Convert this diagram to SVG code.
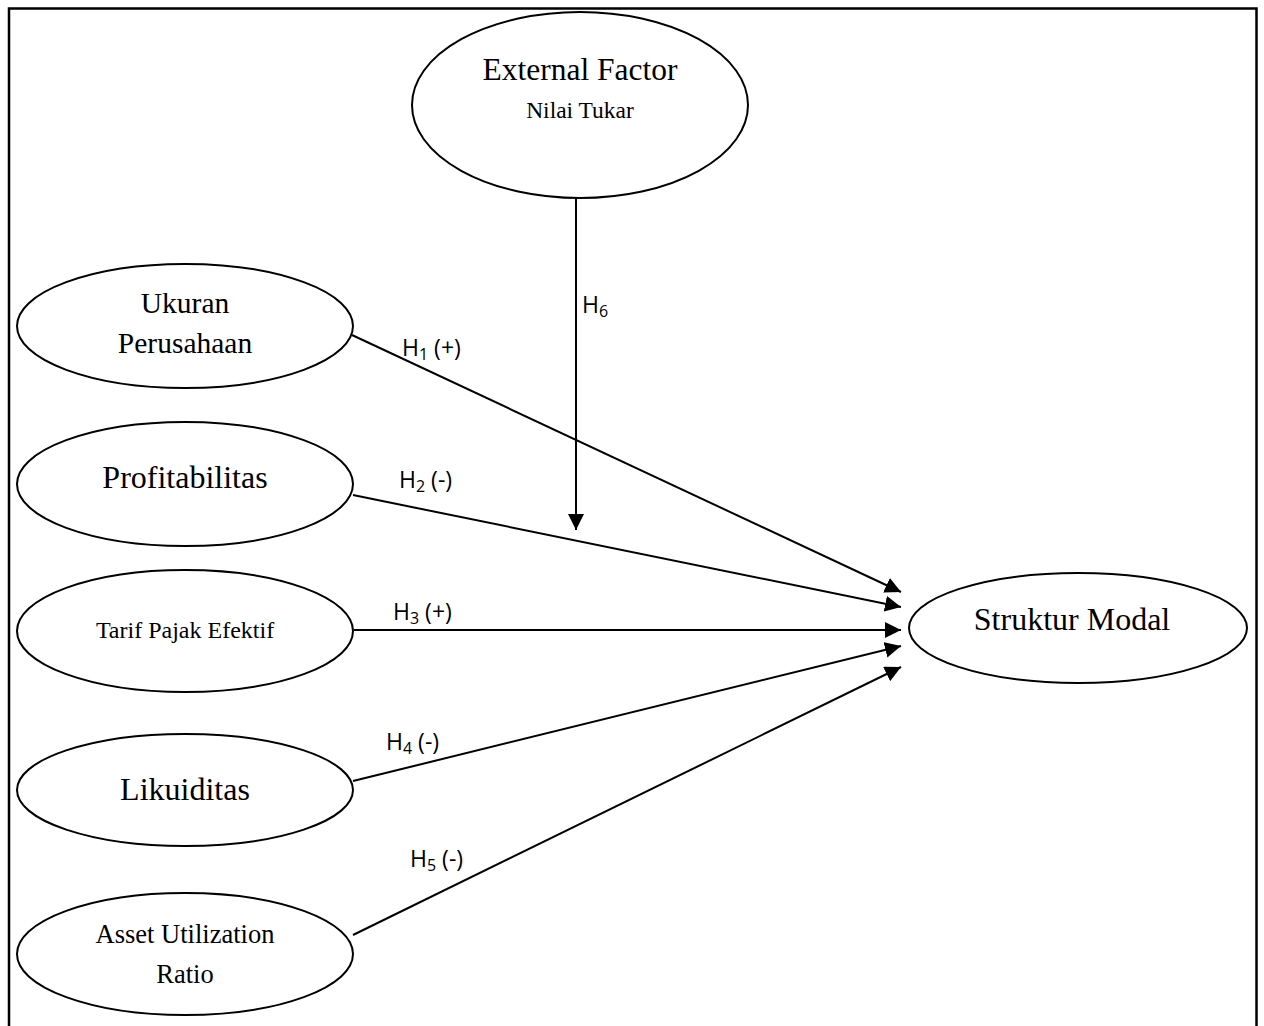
<svg xmlns="http://www.w3.org/2000/svg" width="1264" height="1026" viewBox="0 0 1264 1026">
<defs>
<style>
.node ellipse{fill:#fff;stroke:#000;stroke-width:2}
.t{font-family:"Liberation Serif","Times New Roman",serif;fill:#000;text-anchor:middle}
.lbl{font-family:"Open Sans","Noto Sans","Liberation Sans",sans-serif;font-size:23px;fill:#000}
.sub{font-size:16px}
.edge{stroke:#000;stroke-width:2;fill:none;marker-end:url(#ah)}
</style>
<marker id="ah" viewBox="0 0 16 16" refX="16" refY="8" markerWidth="16" markerHeight="16" markerUnits="userSpaceOnUse" orient="auto">
<path d="M0,0 L16,8 L0,16 Z" fill="#000"/>
</marker>
</defs>
<rect x="0" y="0" width="1264" height="1026" fill="#fff"/>
<path d="M9,1026 V8.5 H1256.5 V1026" fill="none" stroke="#000" stroke-width="2.5"/>
<g id="connectors">
<line class="edge" x1="576" y1="198" x2="576" y2="530"/>
<line class="edge" x1="352" y1="335" x2="901" y2="592"/>
<line class="edge" x1="353" y1="495" x2="901" y2="607"/>
<line class="edge" x1="354" y1="630" x2="901" y2="630"/>
<line class="edge" x1="353" y1="781" x2="901" y2="646"/>
<line class="edge" x1="353" y1="935" x2="901" y2="667"/>
<text class="lbl" x="582" y="313">H<tspan class="sub" dy="4">6</tspan></text>
<text class="lbl" x="402" y="356">H<tspan class="sub" dy="4">1</tspan><tspan dy="-4"> (+)</tspan></text>
<text class="lbl" x="399" y="488">H<tspan class="sub" dy="4">2</tspan><tspan dy="-4"> (-)</tspan></text>
<text class="lbl" x="393" y="620">H<tspan class="sub" dy="4">3</tspan><tspan dy="-4"> (+)</tspan></text>
<text class="lbl" x="386" y="750">H<tspan class="sub" dy="4">4</tspan><tspan dy="-4"> (-)</tspan></text>
<text class="lbl" x="410" y="867">H<tspan class="sub" dy="4">5</tspan><tspan dy="-4"> (-)</tspan></text>
</g>
<g id="external" class="node">
<ellipse cx="580" cy="105" rx="168" ry="93"/>
<text class="t" x="580" y="80" font-size="31.5">External Factor</text>
<text class="t" x="580" y="118" font-size="23.5">Nilai Tukar</text>
</g>
<g id="ukuran" class="node">
<ellipse cx="185" cy="326" rx="168" ry="62"/>
<text class="t" x="185" y="313" font-size="29.5">Ukuran</text>
<text class="t" x="185" y="353" font-size="29.5">Perusahaan</text>
</g>
<g id="profitabilitas" class="node">
<ellipse cx="185" cy="484" rx="168" ry="62"/>
<text class="t" x="185" y="488" font-size="32">Profitabilitas</text>
</g>
<g id="tarif" class="node">
<ellipse cx="185" cy="631" rx="168" ry="61"/>
<text class="t" x="185" y="638" font-size="24">Tarif Pajak Efektif</text>
</g>
<g id="likuiditas" class="node">
<ellipse cx="185" cy="790" rx="168" ry="56"/>
<text class="t" x="185" y="800" font-size="32">Likuiditas</text>
</g>
<g id="asset" class="node">
<ellipse cx="185" cy="954" rx="168" ry="61"/>
<text class="t" x="185" y="943" font-size="26.5">Asset Utilization</text>
<text class="t" x="185" y="983" font-size="26.5">Ratio</text>
</g>
<g id="struktur" class="node">
<ellipse cx="1078" cy="628" rx="169" ry="55"/>
<text class="t" x="1072" y="630" font-size="32">Struktur Modal</text>
</g>
</svg>
